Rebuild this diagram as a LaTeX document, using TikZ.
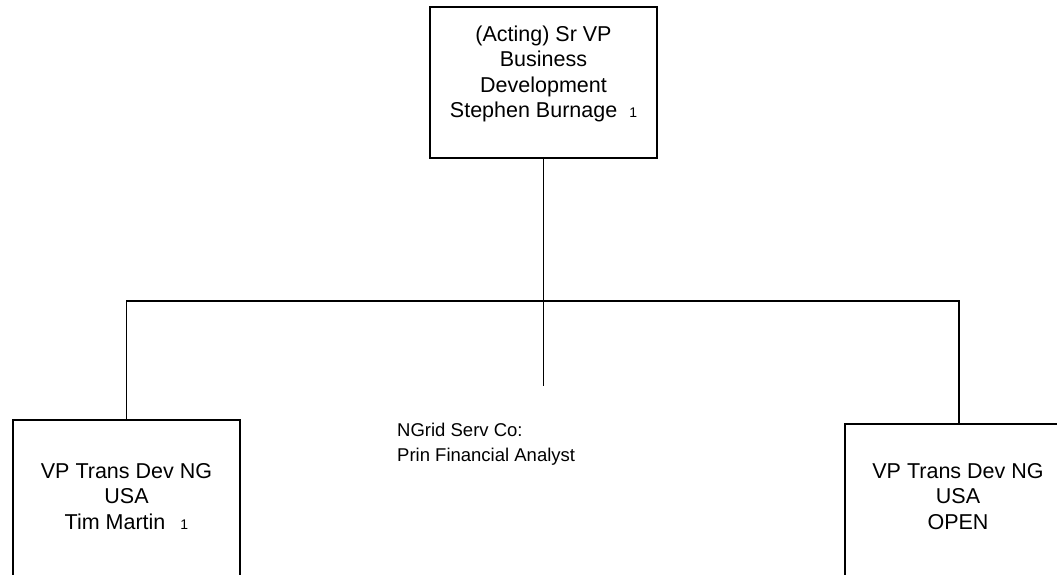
\documentclass[tikz,border=0pt]{standalone}
\usepackage{fontspec}
\setmainfont{Liberation Sans}
\begin{document}
\begin{tikzpicture}[x=1pt,y=1pt,
  box/.style={draw=black, line width=1.8pt, rectangle, inner sep=0pt},
  lbl/.style={inner sep=0pt, align=center, font=\fontsize{21.5}{25.5}\selectfont},
  lbll/.style={inner sep=0pt, align=left, font=\fontsize{18.5}{25}\selectfont},
  conn/.style={draw=black, line width=1.8pt}]
\useasboundingbox (0,0) rectangle (1057,-574);
\clip (0,0) rectangle (1057,-574);
\fill[white] (0,0) rectangle (1057,-574);
% boxes
\node[box, minimum width=227pt, minimum height=151pt] (top) at (543.5,-82.5) {};
\node[box, minimum width=227pt, minimum height=180pt] (lb) at (126.5,-510) {};
\node[box, minimum width=228pt, minimum height=176pt] (rb) at (959,-512) {};
% texts
\node[lbl, anchor=north] (toptxt) at (543.5,-24.5) {\rule{0pt}{16.5pt}(Acting) Sr VP\\Business\\Development\\Stephen Burnage\hspace{12pt}{\fontsize{14}{14}\selectfont 1}};
\node[lbl, anchor=north] (lbtxt) at (126.5,-461.5) {\rule{0pt}{16.5pt}VP Trans Dev NG\\USA\\Tim Martin\hspace{15pt}{\fontsize{14}{14}\selectfont 1}};
\node[lbl, anchor=north] (rbtxt) at (958,-461.5) {\rule{0pt}{16.5pt}VP Trans Dev NG\\USA\\OPEN};
\node[lbll, anchor=north west] (ng) at (397,-421) {\rule{0pt}{15pt}NGrid Serv Co:\\Prin Financial Analyst};
% connectors
\coordinate (stub) at (543.5,-386);
\coordinate (busL) at (126.5,-301);
\coordinate (busR) at (959,-301);
\draw[conn] (top.south) -- (stub);
\draw[conn] (lb.north) -- (busL) -- (busR) -- (rb.north);
\end{tikzpicture}
\end{document}
